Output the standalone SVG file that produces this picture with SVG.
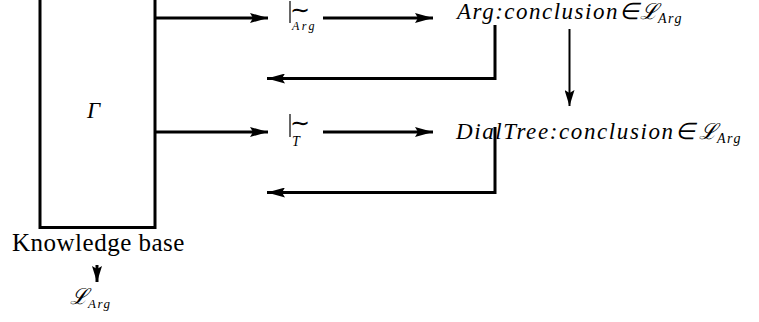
<svg xmlns="http://www.w3.org/2000/svg" width="759" height="322" viewBox="0 0 759 322">
<rect x="0" y="0" width="759" height="322" fill="#fff"/>
<defs>
<marker id="ah" viewBox="0 0 18 10" refX="18" refY="5" markerWidth="18" markerHeight="10" markerUnits="userSpaceOnUse" orient="auto">
<path d="M0,0 L18,5 L0,10 L3,5 Z" fill="#000"/>
</marker>
<marker id="ahs" viewBox="0 0 16 10" refX="16" refY="5" markerWidth="16" markerHeight="10" markerUnits="userSpaceOnUse" orient="auto">
<path d="M0,0 L16,5 L0,10 L3,5 Z" fill="#000"/>
</marker>
</defs>

<g id="kb">
<rect x="40" y="-10" width="115" height="237.5" fill="none" stroke="#000" stroke-width="3"/>
<text x="87" y="118" font-family="Liberation Serif" font-style="italic" font-size="23">Γ</text>
<text x="12" y="251" font-family="Liberation Serif" font-size="25" letter-spacing="0.5">Knowledge base</text>
<text x="70" y="304" font-family="Liberation Serif" font-style="italic" font-size="22"><tspan font-family="DejaVu Serif">ℒ</tspan><tspan font-size="13" dy="4" letter-spacing="1.5">Arg</tspan></text>
</g>

<g id="turnArg">
<line x1="290" y1="1" x2="290" y2="23" stroke="#000" stroke-width="1.2"/>
<text x="289.5" y="18" font-family="Liberation Serif" font-size="24">∼</text>
<text x="292" y="30" font-family="Liberation Serif" font-style="italic" font-size="12" letter-spacing="2.5">Arg</text>
</g>

<g id="turnT">
<line x1="290" y1="114" x2="290" y2="137" stroke="#000" stroke-width="1.2"/>
<text x="289.5" y="131" font-family="Liberation Serif" font-size="24">∼</text>
<text x="292" y="146" font-family="Liberation Serif" font-style="italic" font-size="14">T</text>
</g>

<g id="argConc">
<text x="457" y="19" font-family="Liberation Serif" font-style="italic" font-size="23" letter-spacing="1.5">Arg:conclusion∈</text>
<text x="640" y="19" font-family="Liberation Serif" font-style="italic" font-size="22"><tspan font-family="DejaVu Serif">ℒ</tspan><tspan font-size="14" dy="4" letter-spacing="1.5">Arg</tspan></text>
</g>

<g id="dialConc">
<text x="456" y="139" font-family="Liberation Serif" font-style="italic" font-size="23" letter-spacing="1.6">DialTree:conclusion∈</text>
<text x="699" y="139" font-family="Liberation Serif" font-style="italic" font-size="22"><tspan font-family="DejaVu Serif">ℒ</tspan><tspan font-size="14" dy="4" letter-spacing="1.5">Arg</tspan></text>
</g>

<g id="connectors" fill="none" stroke="#000" stroke-width="3">
<line x1="155" y1="18" x2="268" y2="18" marker-end="url(#ah)"/>
<line x1="323" y1="18" x2="433" y2="18" marker-end="url(#ah)"/>
<polyline points="495,25 495,78.5 267,78.5" marker-end="url(#ah)"/>
<line x1="155" y1="132" x2="268" y2="132" marker-end="url(#ah)"/>
<line x1="323" y1="132" x2="433" y2="132" marker-end="url(#ah)"/>
<polyline points="495,127 495,192.5 267,192.5" marker-end="url(#ah)"/>
<line x1="569.5" y1="29" x2="569.5" y2="106" stroke-width="2" marker-end="url(#ahs)"/>
<line x1="97" y1="265" x2="97" y2="282" marker-end="url(#ahs)"/>
</g>
</svg>
